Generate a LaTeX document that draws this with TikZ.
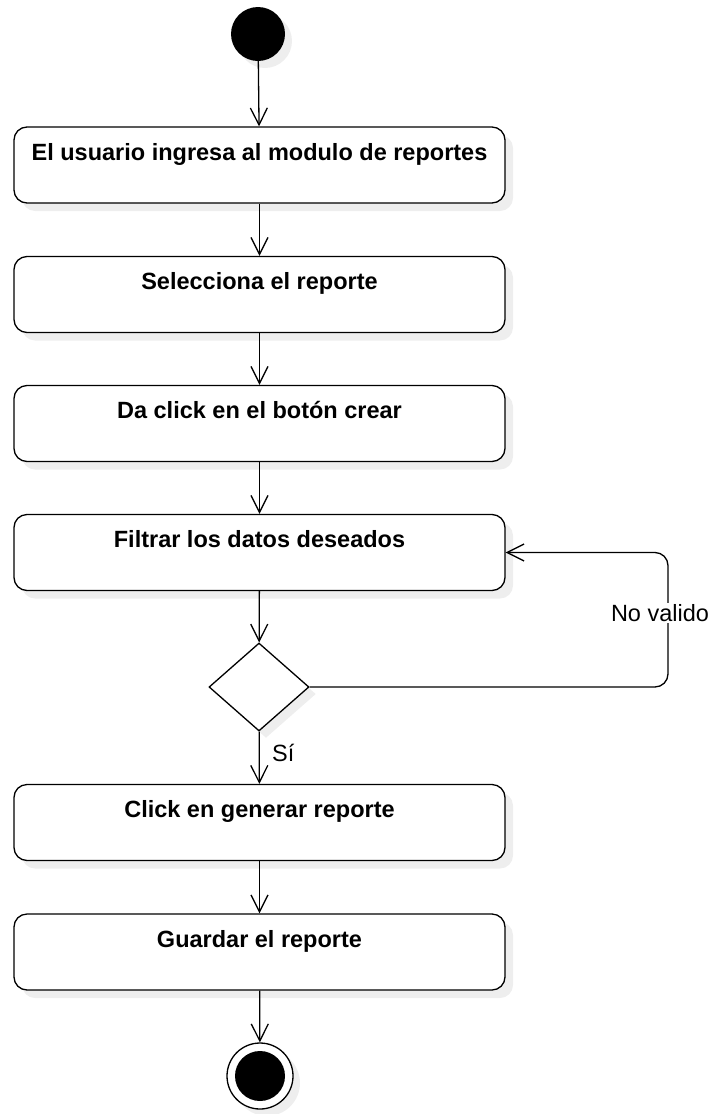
\documentclass[tikz,border=0pt]{standalone}
\usepackage{fontspec}
\setmainfont{Liberation Sans}
\usetikzlibrary{positioning,calc}
\usetikzlibrary{arrows.meta,shapes.geometric,shadows}
\definecolor{SombraGris}{RGB}{238,238,238}

\begin{document}
\begin{tikzpicture}[x=1pt,y=-1pt,
		paso/.style={draw=black,line width=1.3pt,fill=white,rounded corners=13pt,
			minimum width=491pt,inner xsep=0pt,inner ysep=5pt,
			text height=28pt,text depth=38pt,
			font=\fontsize{23.5}{28}\selectfont\bfseries,
			drop shadow={shadow xshift=8pt,shadow yshift=-8pt,fill=SombraGris,opacity=1}},
		flujo/.style={line width=1.3pt,-{Straight Barb[length=17pt,width=17pt,line width=1.3pt]}},
		etiqueta/.style={font=\fontsize{23.5}{28}\selectfont,inner sep=1pt}]
				\useasboundingbox (0,0) rectangle (715,1114);
				
				\node[circle,fill=black,minimum size=54pt,inner sep=0pt,
					drop shadow={shadow xshift=7pt,shadow yshift=-7pt,fill=SombraGris,opacity=1}] (inicio) at (258,34) {};
				
				\node[paso] (ingresa) at (259.5,165) {El usuario ingresa al modulo de reportes};
				\node[paso] (selecciona) at (259.5,294.5) {Selecciona el reporte};
				\node[paso] (crear) at (259.5,423.5) {Da click en el botón crear};
				\node[paso] (filtrar) at (259.5,552.5) {Filtrar los datos deseados};
				
				\node[diamond,draw=black,line width=1.3pt,fill=white,aspect=1.14,
					minimum width=100pt,minimum height=88pt,inner sep=0pt,
					drop shadow={shadow xshift=7pt,shadow yshift=-7pt,fill=SombraGris,opacity=1}] (decision) at (259,687) {};
				
				\node[paso] (generar) at (259.5,822.5) {Click en generar reporte};
				\node[paso] (guardar) at (259.5,952) {Guardar el reporte};
				
				\node[circle,draw=black,line width=1.3pt,fill=white,minimum size=66pt,inner sep=0pt,
					drop shadow={shadow xshift=7pt,shadow yshift=-7pt,fill=SombraGris,opacity=1}] (fin) at (260,1076) {};
				\node[circle,fill=black,minimum size=50pt,inner sep=0pt] (finnucleo) at (fin) {};
				
				\foreach \a/\b in {inicio/ingresa,ingresa/selecciona,selecciona/crear,
					crear/filtrar,filtrar/decision,decision/generar,generar/guardar,guardar/fin}
				\draw[flujo] (\a) -- (\b);
				
				\coordinate (vuelta) at (668,552.5);
				\draw[flujo,rounded corners=13pt] (decision.east) -| (vuelta) -- (filtrar.east);
				\node[etiqueta,fill=white] (novalido) at (660,613) {No valido};
				\node[etiqueta,anchor=west] (si) at (271,753) {Sí};
			\end{tikzpicture}
\end{document}
